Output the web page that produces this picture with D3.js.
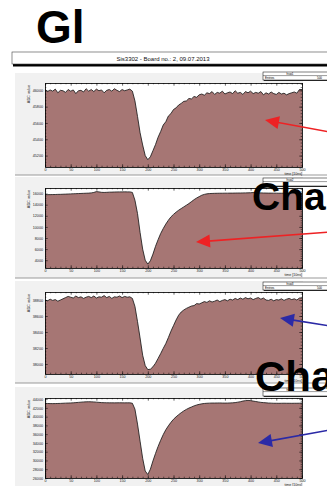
<!DOCTYPE html>
<html>
<head>
<meta charset="utf-8">
<script src="https://cdn.jsdelivr.net/npm/d3@7"></script>
<style>
  body { margin: 0; background: #fff; }
  svg { display: block; font-family: "Liberation Sans", Arial, sans-serif; }
</style>
</head>
<body>
<svg id="chart" width="327" height="486"></svg>
<script>
// waveforms, one value per 5 time bins (time in units of 10ns)
const timeStep = 5;
const timeMax = 500;
const boardTitle = "Sis3302 - Board no.: 2, 09.07.2013";
const xTicks = [0, 50, 100, 150, 200, 250, 300, 350, 400, 450, 500];

const adc1 = [
  46010, 45985, 46005, 45990, 46015, 45970, 46000, 45995, 45975, 46010,
  45990, 46005, 45960, 45995, 46000, 45980, 46020, 45990, 46010, 45985,
  46015, 45995, 46005, 45970, 46000, 46010, 45990, 46020, 46000, 45985,
  46010, 45995, 46005, 46015,
  45990, 45870, 45680, 45480, 45330, 45200, 45150, 45185, 45260, 45335,
  45425, 45495, 45575, 45615, 45685, 45715, 45765, 45785, 45820, 45840,
  45865, 45870, 45900, 45895, 45925, 45915, 45945,
  45955, 45940, 45970, 45960, 45985, 45950, 45975, 45965, 45990, 45955,
  45970, 45980, 45960, 45995, 45965, 45975, 45950, 45985, 45970, 45990,
  45960, 45975, 45965, 45985, 45945, 45970, 45955, 45980, 45960, 45950,
  45975, 45955, 45965, 45945, 45960, 45970, 45980, 45965, 46010
];
const adc2 = [
  15800, 15800, 15810, 15820, 15830, 15850, 15860, 15880, 15900, 15920,
  15940, 15960, 15980, 16000, 16020, 16040, 16060, 16080, 16120, 16200,
  16350, 16300, 16220, 16200, 16220, 16250, 16260, 16280, 16290, 16300,
  16300, 16310, 16300, 16300,
  16200, 14800, 12400, 9000, 6000, 4000, 3300, 3900, 5100, 6500,
  7700, 8800, 9700, 10500, 11200, 11800, 12250, 12650, 13000, 13300,
  13600, 13900, 14200, 14550, 14900, 15200, 15450,
  15700, 15850, 15950, 16000, 16020, 16040, 16050, 16060, 16060, 16070,
  16070, 16080, 16080, 16090, 16100, 16100, 16110, 16120, 16130, 16150,
  16180, 16170, 16140, 16120, 16100, 16090, 16080, 16080, 16070, 16070,
  16060, 16060, 16070, 16070, 16080, 16080, 16070, 16070, 16060
];
const adc3 = [
  38800, 38790, 38810, 38795, 38805, 38785, 38800, 38815, 38830, 38845,
  38835, 38825, 38850, 38830, 38840, 38820, 38835, 38845, 38830, 38850,
  38825, 38840, 38835, 38855, 38830, 38845, 38820, 38840, 38835, 38850,
  38830, 38845, 38835, 38840,
  38820, 38720, 38530, 38325, 38110, 37980, 37930, 37935, 37965, 38010,
  38070, 38130, 38195, 38255, 38330, 38410, 38480, 38550, 38610, 38650,
  38675, 38695, 38710, 38725, 38730, 38755, 38750,
  38765, 38780, 38770, 38790, 38775, 38785, 38800, 38780, 38795, 38805,
  38790, 38810, 38800, 38820, 38805, 38825, 38810, 38830, 38815, 38825,
  38805, 38820, 38830, 38810, 38825, 38800, 38795, 38810, 38790, 38805,
  38800, 38815, 38795, 38810, 38820, 38805, 38815, 38800, 38825
];
const adc4 = [
  43000, 43000, 42980, 42970, 42980, 43000, 43020, 43050, 43080, 43100,
  43120, 43150, 43200, 43250, 43300, 43350, 43380, 43400, 43380, 43350,
  43300, 43250, 43200, 43180, 43160, 43150, 43150, 43140, 43150, 43160,
  43150, 43140, 43150, 43150,
  43050, 41700, 38300, 34400, 30500, 27600, 26800, 28000, 29900, 31600,
  33200, 34600, 35900, 37000, 37900, 38700, 39400, 39950, 40450, 40900,
  41300, 41650, 41950, 42200, 42450, 42650, 42800,
  42920, 43000, 43050, 43080, 43100, 43100, 43110, 43120, 43100, 43090,
  43100, 43120, 43150, 43200, 43300, 43400, 43550, 43650, 43700, 43650,
  43550, 43450, 43350, 43250, 43200, 43150, 43100, 43080, 43050, 43050,
  43040, 43050, 43060, 43050, 43050, 43040, 43050, 43050, 43060
];

const yTicks1 = [45200, 45400, 45600, 45800, 46000];
const yTicks2 = [4000, 6000, 8000, 10000, 12000, 14000, 16000];
const yTicks3 = [38000, 38200, 38400, 38600, 38800];
const yTicks4 = [26000, 28000, 30000, 32000, 34000, 36000, 38000, 40000, 42000, 44000];

const panels = [
  {values: adc1, ticks: yTicks1, domain: [45060, 46090], minor: 40,  pad: [73, 175],  frame: [83, 167],  stats: "hsw1", statsY: 72,  entries: true},
  {values: adc2, ticks: yTicks2, domain: [2600, 17000],  minor: 400, pad: [177, 278], frame: [188, 268], stats: "hsw2", statsY: 178, entries: false},
  {values: adc3, ticks: yTicks3, domain: [37875, 38900], minor: 40,  pad: [281, 383], frame: [292, 374], stats: "hsw3", statsY: 282, entries: true},
  {values: adc4, ticks: yTicks4, domain: [26000, 44250], minor: 400, pad: [387, 490], frame: [398, 478], stats: "hsw4", statsY: 388, entries: false}
];

const svg = d3.select('#chart');
svg.append('rect').attr('width', 327).attr('height', 486).attr('fill', '#fff');

const x = d3.scaleLinear().domain([0, timeMax]).range([45, 302]);
const fillColor = '#a67674';

function styleAxis(g, labels) {
  g.attr('font-family', null).attr('font-size', 3.7).attr('fill', null);
  g.selectAll('line').attr('stroke', '#000').attr('stroke-width', 0.5);
  g.selectAll('path').attr('stroke', '#000').attr('stroke-width', 0.6);
  g.selectAll('text').attr('fill', '#222');
  if (!labels) g.selectAll('text').remove();
}

panels.forEach(p => {
  const padG = svg.append('g');
  padG.append('rect')
    .attr('x', 15).attr('y', p.pad[0])
    .attr('width', 288).attr('height', p.pad[1] - p.pad[0])
    .attr('fill', '#f1f1f1');
  padG.append('line')
    .attr('x1', 15).attr('x2', 327).attr('y1', p.pad[1]).attr('y2', p.pad[1])
    .attr('stroke', '#999').attr('stroke-width', 1);

  const y = d3.scaleLinear().domain(p.domain).range([p.frame[1], p.frame[0]]);

  padG.append('rect')
    .attr('x', x(0)).attr('y', p.frame[0])
    .attr('width', x(timeMax) - x(0)).attr('height', p.frame[1] - p.frame[0])
    .attr('fill', '#fff');

  const pts = p.values.map((v, i) => [i * timeStep, v]);
  pts.push([timeMax, p.values[p.values.length - 1]]);

  const area = d3.area()
    .x(d => x(d[0]))
    .y0(p.frame[1])
    .y1(d => y(d[1]));
  const line = d3.line()
    .x(d => x(d[0]))
    .y(d => y(d[1]));

  padG.append('path').datum(pts).attr('d', area).attr('fill', fillColor);
  padG.append('path').datum(pts).attr('d', line)
    .attr('fill', 'none').attr('stroke', '#111').attr('stroke-width', 0.8);

  const xMinor = d3.range(0, timeMax + 1, 10);
  const yMinor = d3.range(Math.ceil(p.domain[0] / p.minor) * p.minor, p.domain[1], p.minor);

  // bottom
  padG.append('g').attr('transform', `translate(0,${p.frame[1]})`)
    .call(d3.axisBottom(x).tickValues(xMinor).tickSize(-1.3).tickSizeOuter(0).tickFormat(''))
    .call(g => styleAxis(g, false));
  padG.append('g').attr('transform', `translate(0,${p.frame[1]})`)
    .call(d3.axisBottom(x).tickValues(xTicks).tickSize(-2.8).tickSizeOuter(0).tickPadding(1.3).tickFormat(d3.format('d')))
    .call(g => styleAxis(g, true));
  // top
  padG.append('g').attr('transform', `translate(0,${p.frame[0]})`)
    .call(d3.axisTop(x).tickValues(xMinor).tickSize(-1.3).tickSizeOuter(0).tickFormat(''))
    .call(g => styleAxis(g, false));
  padG.append('g').attr('transform', `translate(0,${p.frame[0]})`)
    .call(d3.axisTop(x).tickValues(xTicks).tickSize(-2.8).tickSizeOuter(0).tickFormat(''))
    .call(g => styleAxis(g, false));
  // left
  padG.append('g').attr('transform', `translate(${x(0)},0)`)
    .call(d3.axisLeft(y).tickValues(yMinor).tickSize(-1.3).tickSizeOuter(0).tickFormat(''))
    .call(g => styleAxis(g, false));
  padG.append('g').attr('transform', `translate(${x(0)},0)`)
    .call(d3.axisLeft(y).tickValues(p.ticks).tickSize(-2.8).tickSizeOuter(0).tickPadding(2).tickFormat(d3.format('d')))
    .call(g => styleAxis(g, true));
  // right
  padG.append('g').attr('transform', `translate(${x(timeMax)},0)`)
    .call(d3.axisRight(y).tickValues(yMinor).tickSize(-1.3).tickSizeOuter(0).tickFormat(''))
    .call(g => styleAxis(g, false));
  padG.append('g').attr('transform', `translate(${x(timeMax)},0)`)
    .call(d3.axisRight(y).tickValues(p.ticks).tickSize(-2.8).tickSizeOuter(0).tickFormat(''))
    .call(g => styleAxis(g, false));

  // axis titles
  padG.append('text')
    .attr('transform', `translate(29.5,${p.frame[0] + 2}) rotate(-90)`)
    .attr('text-anchor', 'end').attr('font-size', 3.8).attr('fill', '#222')
    .text('ADC value');
  padG.append('text')
    .attr('x', x(timeMax)).attr('y', p.frame[1] + 7.5)
    .attr('text-anchor', 'end').attr('font-size', 3.6).attr('fill', '#222')
    .text('time [10ns]');

  // stats box
  const sb = padG.append('g').attr('transform', `translate(263,${p.statsY})`);
  sb.append('rect').attr('x', 0.8).attr('y', 0.8).attr('width', 70).attr('height', 8).attr('fill', '#000');
  sb.append('rect').attr('width', 70).attr('height', 8).attr('fill', '#fff')
    .attr('stroke', '#000').attr('stroke-width', 0.5);
  sb.append('line').attr('x1', 0).attr('x2', 70).attr('y1', 3.6).attr('y2', 3.6)
    .attr('stroke', '#000').attr('stroke-width', 0.4);
  sb.append('text').attr('x', 27).attr('y', 3).attr('text-anchor', 'middle')
    .attr('font-size', 3).text(p.stats);
  if (p.entries) {
    sb.append('text').attr('x', 2).attr('y', 7).attr('font-size', 3).text('Entries');
    sb.append('text').attr('x', 59).attr('y', 7).attr('text-anchor', 'end')
      .attr('font-size', 3).text(p.values.length * timeStep);
  }
});

// canvas title box
svg.append('rect').attr('x', 13).attr('y', 54.5).attr('width', 330).attr('height', 12).attr('fill', '#000');
svg.append('rect').attr('x', 12).attr('y', 52).attr('width', 330).attr('height', 12)
  .attr('fill', '#fff').attr('stroke', '#444').attr('stroke-width', 0.6);
svg.append('text').attr('x', 163).attr('y', 60.5).attr('text-anchor', 'middle')
  .attr('font-size', 6).attr('fill', '#111').text(boardTitle);

// slide overlays
svg.append('text').attr('x', 36).attr('y', 43).attr('font-size', 46)
  .attr('font-weight', 'bold').attr('fill', '#000').text('Gl');
svg.append('text').attr('x', 252).attr('y', 210).attr('font-size', 39)
  .attr('font-weight', 'bold').attr('fill', '#000').text('Cha');
svg.append('text').attr('x', 255).attr('y', 391).attr('font-size', 42)
  .attr('font-weight', 'bold').attr('fill', '#000').text('Cha');

const arrows = [
  {from: [330, 132], to: [265, 120], color: '#ee2224'},
  {from: [330, 232], to: [196, 242], color: '#ee2224'},
  {from: [330, 326], to: [280, 318], color: '#2b2aa6'},
  {from: [330, 430], to: [258, 443], color: '#2b2aa6'}
];
arrows.forEach(a => {
  const dx = a.to[0] - a.from[0], dy = a.to[1] - a.from[1];
  const len = Math.hypot(dx, dy), ux = dx / len, uy = dy / len;
  const hl = 14, hw = 6.5;
  const bx = a.to[0] - ux * hl, by = a.to[1] - uy * hl;
  svg.append('line')
    .attr('x1', a.from[0]).attr('y1', a.from[1]).attr('x2', bx + ux * 2).attr('y2', by + uy * 2)
    .attr('stroke', a.color).attr('stroke-width', 1.6);
  svg.append('path')
    .attr('d', d3.line()([[a.to[0], a.to[1]], [bx - uy * hw, by + ux * hw], [bx + uy * hw, by - ux * hw]]) + 'Z')
    .attr('fill', a.color);
});
</script>
</body>
</html>
